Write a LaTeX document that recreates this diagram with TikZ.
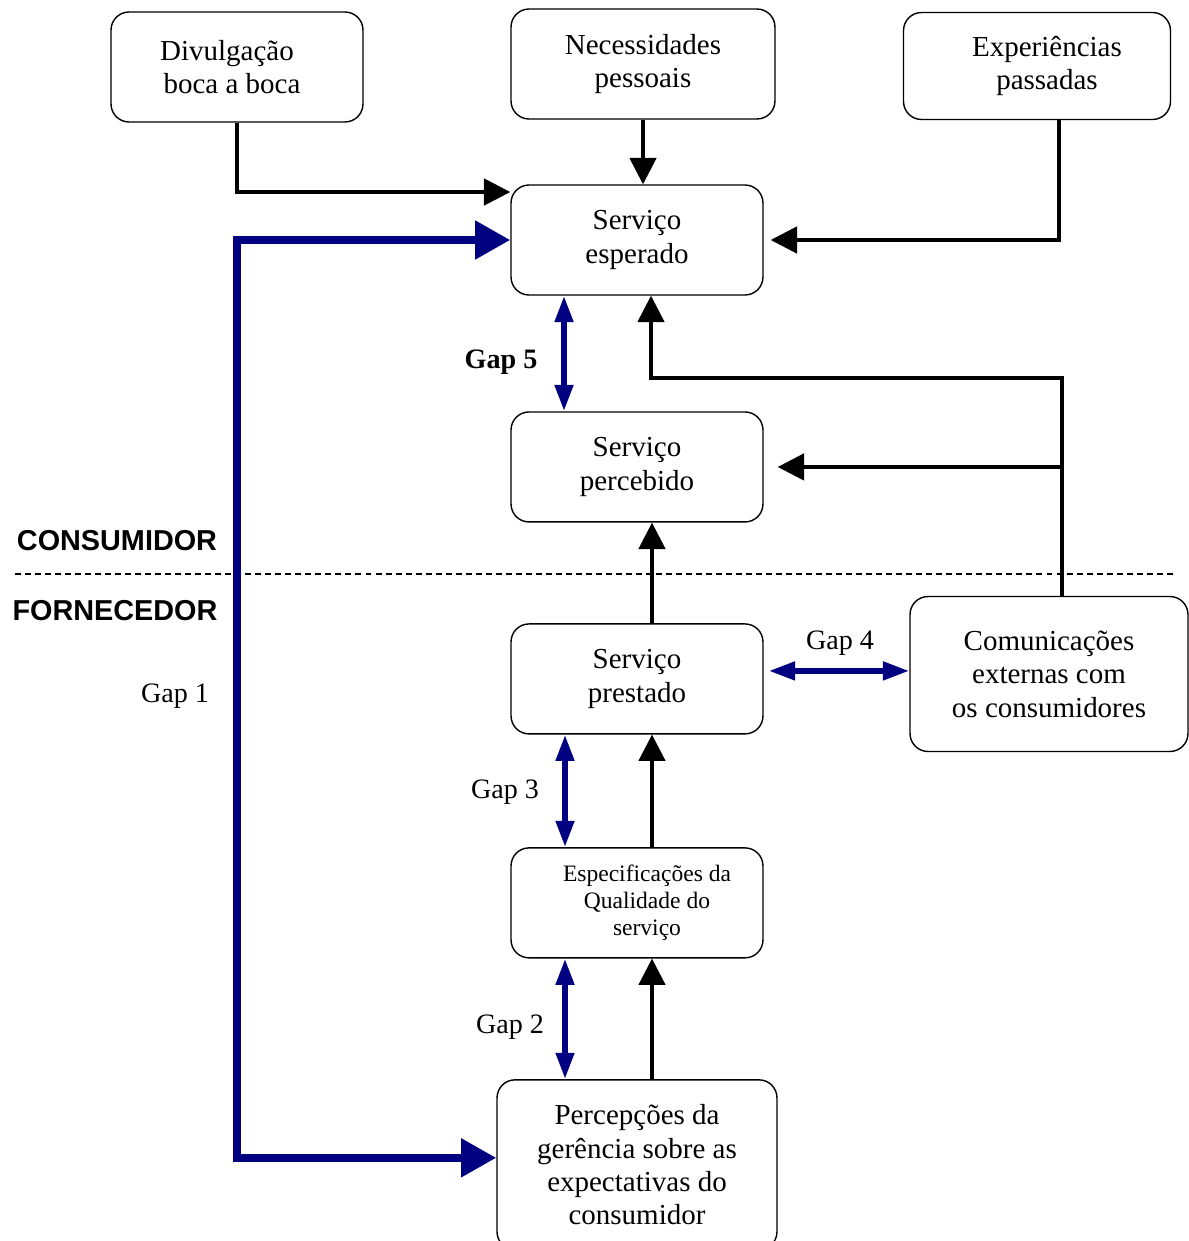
\documentclass[tikz,border=0pt]{standalone}
\usepackage{fontspec}
\setmainfont{Liberation Serif}
\setsansfont{Liberation Sans}
\usetikzlibrary{arrows.meta}
\definecolor{gapblue}{RGB}{0,0,128}

\begin{document}
\begin{tikzpicture}[x=0.02cm, y=-0.02cm,
    box/.style={draw, rectangle, rounded corners=0.36cm, line width=0.8pt, minimum width=5.04cm, minimum height=2.2cm, align=center, inner sep=2pt, font=\fontsize{16.5}{19}\selectfont},
    flow/.style={line width=2pt, -{Triangle[length=15pt,width=15pt]}},
    gapflow/.style={gapblue, line width=3.3pt, {Triangle[length=15pt,width=10pt]}-{Triangle[length=15pt,width=10pt]}},
    bigflow/.style={gapblue, line width=4.6pt, {Triangle[length=20pt,width=21pt]}-{Triangle[length=20pt,width=21pt]}},
    gaplabel/.style={font=\fontsize{16}{19}\selectfont},
    side/.style={font=\sffamily\bfseries\fontsize{16.4}{19}\selectfont}]
    \useasboundingbox (0,0) rectangle (1188,1241);

    % central column
    \node[box] (esperado) at (637,240) {Serviço\\esperado};
    \node[box, below of=esperado, node distance=4.54cm] (percebido) {Serviço\\percebido};
    \node[box, below of=percebido, node distance=4.24cm] (prestado) {Serviço\\prestado};
    \node[box, below of=prestado, node distance=4.48cm, font=\fontsize{13.4}{15.3}\selectfont] (especificacoes) {\hspace*{0.4cm}Especificações da\\\hspace*{0.4cm}Qualidade do\\\hspace*{0.4cm}serviço};
    \node[box, below of=especificacoes, node distance=5.24cm, minimum width=5.6cm, minimum height=3.4cm] (percepcoes) {Percepções da\\gerência sobre as\\expectativas do\\consumidor};

    % top row and right side
    \node[box] (divulgacao) at (237,67) {Divulgação\hspace*{0.4cm}\\boca a boca\hspace*{0.2cm}};
    \node[box, minimum width=5.28cm] (necessidades) at (643,64) {Necessidades\\pessoais};
    \node[box, minimum width=5.34cm, minimum height=2.14cm] (experiencias) at (1037,66) {\hspace*{0.4cm}Experiências\\\hspace*{0.4cm}passadas};
    \node[box, minimum width=5.56cm, minimum height=3.1cm] (comunicacoes) at (1049,674) {Comunicações\\externas com\\os consumidores};

    % consumer / provider divide
    \draw[dash pattern=on 3.4pt off 2.3pt, line width=0.8pt] (15,574) -- (1175,574);
    \node[side] (consumidor) at (117,541) {CONSUMIDOR};
    \node[side] (fornecedor) at (115,611) {FORNECEDOR};

    \draw[flow] (divulgacao.south) |- ([yshift=0.96cm]esperado.west);
    \draw[flow] (necessidades.south) -- (necessidades.south |- esperado.north);
    \draw[flow] ([xshift=0.44cm]experiencias.south) |- ([xshift=0.14cm]esperado.east);
    \coordinate (junction) at (1062,378);
    \draw[flow] (comunicacoes.north -| junction) -- (junction) -| ([xshift=0.28cm]esperado.south);
    \draw[flow] (percebido.east -| junction) -- ([xshift=0.28cm]percebido.east);
    \draw[flow] ([xshift=0.3cm]prestado.north) -- ([xshift=0.3cm]percebido.south);
    \draw[flow] ([xshift=0.3cm]especificacoes.north) -- ([xshift=0.3cm]prestado.south);
    \draw[flow] ([xshift=0.3cm]percepcoes.north) -- ([xshift=0.3cm]especificacoes.south);

    % gaps
    \draw[bigflow] (esperado.west) -- (esperado.west -| divulgacao.south) |- ([yshift=0.14cm]percepcoes.west);
    \draw[gapflow] ([xshift=-1.46cm]esperado.south) -- ([xshift=-1.46cm]esperado.south |- percebido.north);
    \draw[gapflow] ([xshift=-1.44cm]prestado.south) -- ([xshift=-1.44cm]especificacoes.north);
    \draw[gapflow] ([xshift=-1.44cm]especificacoes.south) -- ([xshift=-1.44cm]especificacoes.south |- percepcoes.north);
    \draw[gapflow] ([xshift=0.1cm, yshift=0.16cm]prestado.east) -- ([yshift=0.16cm]prestado.east -| comunicacoes.west);

    \node[font=\bfseries\fontsize{16}{19}\selectfont] (gap5) at (501,362) {Gap 5};
    \node[gaplabel] (gap1) at (175,696) {Gap 1};
    \node[gaplabel] (gap4) at (840,643) {Gap 4};
    \node[gaplabel] (gap3) at (505,792) {Gap 3};
    \node[gaplabel] (gap2) at (510,1027) {Gap 2};
\end{tikzpicture}
\end{document}
